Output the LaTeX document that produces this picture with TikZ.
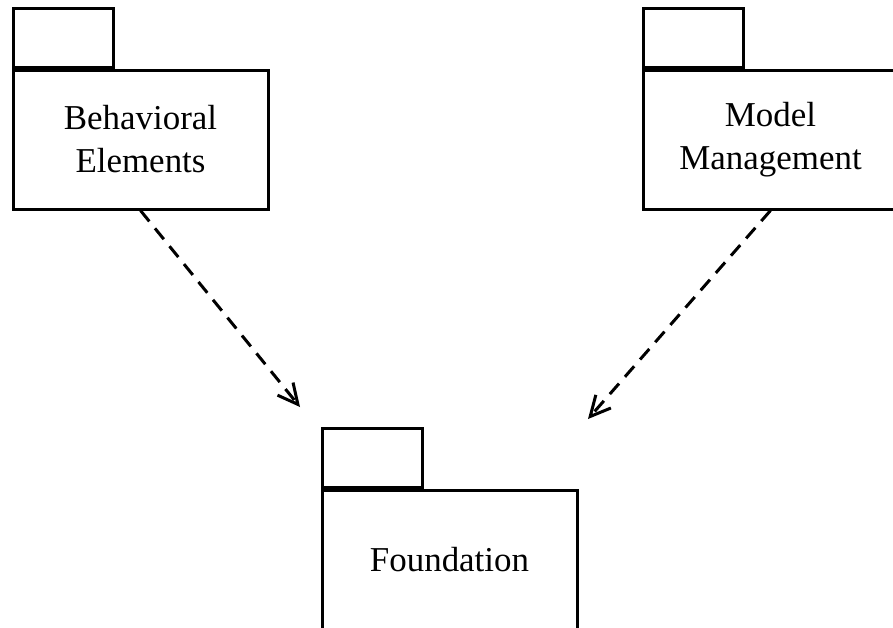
\documentclass[tikz,border=0pt]{standalone}
\usepackage{fontspec}
\setmainfont{Liberation Serif}
\usetikzlibrary{arrows.meta}
\begin{document}
\begin{tikzpicture}[x=0.75pt,y=-0.75pt,
  pkgbody/.style={draw,line width=2.25pt,minimum width=191.25pt,minimum height=104.25pt,inner sep=0pt,align=center,font=\fontsize{26.2}{32.25}\selectfont},
  pkgtab/.style={draw,line width=2.25pt,minimum width=75pt,minimum height=44.25pt,inner sep=0pt,anchor=south west},
  dep/.style={line width=2.25pt,dash pattern=on 10.5pt off 6.75pt,-{Straight Barb[length=15pt,width=15pt]}}
]
\useasboundingbox (0,0) rectangle (893,628);
\clip (0,0) rectangle (893,628);
\node[pkgbody] (be) at (140.5,139.5) {Behavioral\\Elements};
\node[pkgtab] (betab) at (be.north west) {};
\node[pkgbody] (mm) at (770.5,139.5) {Model\\Management};
\node[pkgtab] (mmtab) at (mm.north west) {};
\node[pkgbody] (fd) at (449.5,559.5) {Foundation};
\node[pkgtab] (fdtab) at (fd.north west) {};
\coordinate (tip1) at (300,407);
\coordinate (tip2) at (588,419);
\draw[dep] (be.south) -- (tip1);
\draw[dep] (mm.south) -- (tip2);
\end{tikzpicture}
\end{document}
